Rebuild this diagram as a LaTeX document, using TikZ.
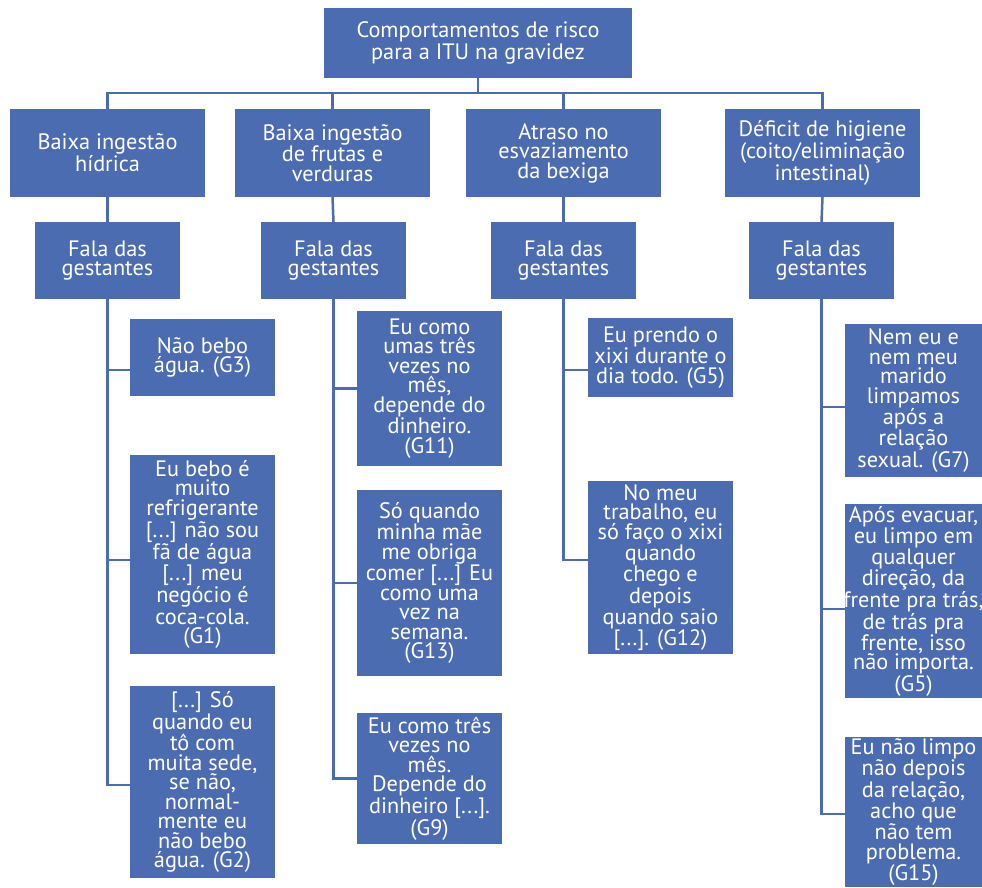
\documentclass[tikz,border=0pt]{standalone}
\usepackage{fontspec}
\setmainfont{PT Sans}
\usetikzlibrary{calc}
\definecolor{boxblue}{RGB}{76,108,178}
\tikzset{
  blk/.style={fill=boxblue, draw=none, inner sep=0pt, outer sep=0pt},
  txt/.style={text=white, align=center, inner sep=0pt, font=\fontsize{22.3}{19.5}\selectfont},
  conn/.style={draw=boxblue, line width=2.5pt}
}
\newcommand{\bx}[6]{% name, x1, y1, x2, y2, text
  \node[blk, minimum width={#4-#2}, minimum height={#5-#3}] (#1) at ({(#2+#4)/2},{(#3+#5)/2}) {};
  \node[txt] (#1-t) at (#1.center) {#6};
}
\begin{document}
\begin{tikzpicture}[x=1pt,y=-1pt]
\useasboundingbox (0,0) rectangle (982,887);
% top
\bx{top}{324}{8}{632}{78}{Comportamentos de risco\\para a ITU na gravidez}
% level 2
\bx{b1}{10}{109}{205}{197}{Baixa ingestão\\hídrica}
\bx{b2}{235}{109}{430}{197}{Baixa ingestão\\de frutas e\\verduras}
\bx{b3}{466}{109}{661}{197}{Atraso no\\esvaziamento\\da bexiga}
\bx{b4}{725}{109}{920}{197}{Déficit de higiene\\(coito/eliminação\\intestinal)}
% level 3
\bx{f1}{35}{222}{180}{299}{Fala das\\gestantes}
\bx{f2}{261}{222}{406}{299}{Fala das\\gestantes}
\bx{f3}{491}{222}{636}{299}{Fala das\\gestantes}
\bx{f4}{749}{222}{894}{299}{Fala das\\gestantes}
% quotes col 1
\bx{q11}{130}{319}{275}{396}{Não bebo\\água. (G3)}
\bx{q12}{130}{455}{275}{654}{Eu bebo é\\muito\\refrigerante\\{}[...] não sou\\fã de água\\{}[...] meu\\negócio é\\coca-cola.\\(G1)}
\bx{q13}{130}{686}{275}{878}{{[...]} Só\\quando eu\\tô com\\muita sede,\\se não,\\normal-\\mente eu\\não bebo\\água. (G2)}
% col 2
\bx{q21}{357}{311}{502}{466}{Eu como\\umas três\\vezes no\\mês,\\depende do\\dinheiro.\\(G11)}
\bx{q22}{357}{490}{502}{676}{Só quando\\minha mãe\\me obriga\\comer [...] Eu\\como uma\\vez na\\semana.\\(G13)}
\bx{q23}{357}{713}{502}{844}{Eu como três\\vezes no\\mês.\\Depende do\\dinheiro [...].\\(G9)}
% col 3
\bx{q31}{588}{318}{733}{397}{Eu prendo o\\xixi durante o\\dia todo. (G5)}
\bx{q32}{588}{481}{733}{654}{No meu\\trabalho, eu\\só faço o xixi\\quando\\chego e\\depois\\quando saio\\{}[...]. (G12)}
% col 4
\bx{q41}{845}{324}{982}{477}{Nem eu e\\nem meu\\marido\\limpamos\\após a\\relação\\sexual. (G7)}
\bx{q42}{845}{504}{982}{698}{Após evacuar,\\eu limpo em\\qualquer\\direção, da\\frente pra trás,\\de trás pra\\frente, isso\\não importa.\\(G5)}
\bx{q43}{845}{737}{982}{887}{Eu não limpo\\não depois\\da relação,\\acho que\\não tem\\problema.\\(G15)}
% bus
\coordinate (bus) at (0,93);
\draw[conn] (top.south) -- (top.south |- bus);
\draw[conn] (b1.north) -- (b1.north |- bus) -- (b4.north |- bus) -- (b4.north);
\draw[conn] (b2.north) -- (b2.north |- bus);
\draw[conn] (b3.north) -- (b3.north |- bus);
\foreach \i in {1,2,3,4} {\draw[conn] (b\i.south) -- (f\i.north);}
% connection points
\coordinate (c11) at ([yshift=-12.5pt]q11.west);
\coordinate (c12) at ([yshift=-5.5pt]q12.west);
\coordinate (c13) at ([yshift=-3pt]q13.west);
\coordinate (c21) at (q21.west);
\coordinate (c22) at (q22.west);
\coordinate (c23) at (q23.west);
\coordinate (c31) at ([yshift=-12.5pt]q31.west);
\coordinate (c32) at ([yshift=7.5pt]q32.west);
\coordinate (c41) at ([yshift=-6.5pt]q41.west);
\coordinate (c42) at ([yshift=-8pt]q42.west);
\coordinate (c43) at ([yshift=-2pt]q43.west);
\draw[conn] (f1.south) |- (c13);
\draw[conn] (f1.south |- c11) -- (c11);
\draw[conn] (f1.south |- c12) -- (c12);
\draw[conn] (f2.south) |- (c23);
\draw[conn] (f2.south |- c21) -- (c21);
\draw[conn] (f2.south |- c22) -- (c22);
\draw[conn] (f3.south) |- (c32);
\draw[conn] (f3.south |- c31) -- (c31);
\draw[conn] (f4.south) |- (c43);
\draw[conn] (f4.south |- c41) -- (c41);
\draw[conn] (f4.south |- c42) -- (c42);
\end{tikzpicture}
\end{document}
